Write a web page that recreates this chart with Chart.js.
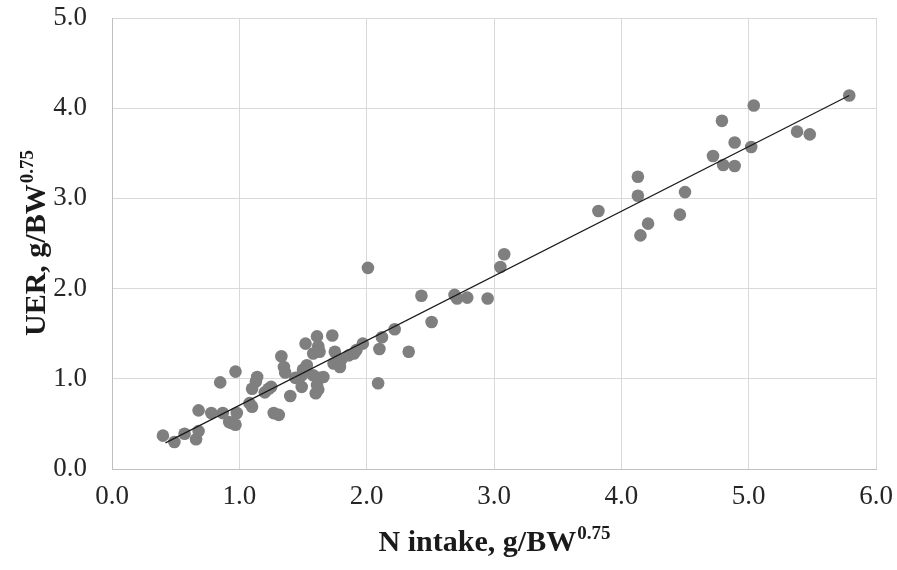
<!DOCTYPE html>
<html>
<head>
<meta charset="utf-8">
<script src="https://cdn.jsdelivr.net/npm/chart.js@4"></script>
<style>
  html, body { margin: 0; padding: 0; background: #ffffff; }
  #wrap { width: 897px; height: 570px; }
</style>
</head>
<body>
<div id="wrap"><canvas id="c" width="897" height="570"></canvas></div>
<script>
// N intake, g/BW^0.75
const nIntake = [
  0.40, 0.49, 0.57, 0.66, 0.68, 0.68, 0.78, 0.85, 0.87, 0.92,
  0.94, 0.97, 0.97, 0.98, 1.08, 1.10, 1.10, 1.13, 1.14, 1.20,
  1.23, 1.25, 1.27, 1.31, 1.33, 1.35, 1.36, 1.40, 1.44, 1.49,
  1.49, 1.50, 1.52, 1.53, 1.58, 1.58, 1.61, 1.61, 1.62, 1.62,
  1.60, 1.63, 1.63, 1.66, 1.73, 1.74, 1.75, 1.79, 1.80, 1.86,
  1.90, 1.92, 1.97, 2.01, 2.09, 2.10, 2.12, 2.22, 2.33, 2.43,
  2.51, 2.69, 2.71, 2.79, 2.95, 3.05, 3.08, 3.82, 4.13, 4.13,
  4.21, 4.15, 4.46, 4.50, 4.72, 4.79, 4.80, 4.89, 4.89, 5.02,
  5.04, 5.38, 5.48, 5.79
];
// UER, g/BW^0.75
const uer = [
  0.37, 0.30, 0.39, 0.33, 0.42, 0.65, 0.62, 0.96, 0.62, 0.52,
  0.51, 0.49, 1.08, 0.62, 0.73, 0.69, 0.89, 0.97, 1.02, 0.85,
  0.89, 0.91, 0.62, 0.60, 1.25, 1.13, 1.07, 0.81, 1.01, 1.04,
  0.91, 1.10, 1.39, 1.15, 1.28, 1.04, 1.47, 0.93, 1.36, 0.88,
  0.84, 1.30, 1.01, 1.02, 1.48, 1.17, 1.30, 1.13, 1.21, 1.26,
  1.28, 1.32, 1.39, 2.23, 0.95, 1.33, 1.46, 1.55, 1.30, 1.92,
  1.63, 1.93, 1.89, 1.90, 1.89, 2.24, 2.38, 2.86, 3.24, 3.03,
  2.72, 2.59, 2.82, 3.07, 3.47, 3.86, 3.37, 3.62, 3.36, 3.57,
  4.03, 3.74, 3.71, 4.14
];
// Linear trend line end points
const trendX = [0.42, 5.79];
const trendY = [0.29, 4.14];

const xTitle = "N intake, g/BW";
const yTitle = "UER, g/BW";
const titleSup = "0.75";

const points = nIntake.map((x, i) => ({ x: x, y: uer[i] }));
const trend = trendX.map((x, i) => ({ x: x, y: trendY[i] }));

const FONT = "'Liberation Serif', 'Times New Roman', serif";

const titlePlugin = {
  id: 'axisTitles',
  afterDraw(chart) {
    const ctx = chart.ctx;
    const a = chart.chartArea;
    ctx.save();
    ctx.fillStyle = '#1a1a1a';
    ctx.textBaseline = 'alphabetic';
    ctx.textAlign = 'left';
    const mainF = "bold 30px " + FONT;
    const supF = "bold 19px " + FONT;
    // X title
    ctx.font = mainF;
    const w1 = ctx.measureText(xTitle).width;
    ctx.font = supF;
    const w2 = ctx.measureText(titleSup).width;
    const cx = (a.left + a.right) / 2;
    const sx = cx - (w1 + w2) / 2;
    const by = 551;
    ctx.font = mainF;
    ctx.fillText(xTitle, sx, by);
    ctx.font = supF;
    ctx.fillText(titleSup, sx + w1 + 1, by - 12);
    // Y title
    ctx.translate(45, (a.top + a.bottom) / 2);
    ctx.rotate(-Math.PI / 2);
    ctx.font = mainF;
    const v1 = ctx.measureText(yTitle).width;
    ctx.font = supF;
    const v2 = ctx.measureText(titleSup).width;
    const vx = -(v1 + v2) / 2;
    ctx.font = mainF;
    ctx.fillText(yTitle, vx, 0);
    ctx.font = supF;
    ctx.fillText(titleSup, vx + v1 + 1, -12);
    ctx.restore();
  }
};

function zeroPad(scale) {
  scale.paddingTop = 0;
  scale.paddingBottom = 0;
  scale.paddingLeft = 0;
  scale.paddingRight = 0;
}

new Chart(document.getElementById('c'), {
  type: 'scatter',
  data: {
    datasets: [
      {
        label: 'UER',
        data: points,
        backgroundColor: '#7f7f7f',
        borderWidth: 0,
        pointRadius: 6.3,
        pointHoverRadius: 6.3,
        order: 2
      },
      {
        label: 'Trend',
        type: 'line',
        data: trend,
        borderColor: '#1a1a1a',
        borderWidth: 1.2,
        pointRadius: 0,
        fill: false,
        order: 1
      }
    ]
  },
  options: {
    responsive: false,
    animation: false,
    events: [],
    layout: { padding: { top: 18, right: 21, left: 0, bottom: 0 } },
    plugins: {
      legend: { display: false },
      tooltip: { enabled: false }
    },
    scales: {
      x: {
        type: 'linear',
        min: 0, max: 6,
        ticks: {
          stepSize: 1,
          padding: 12,
          color: '#262626',
          font: { family: FONT, size: 27 },
          callback: v => Number(v).toFixed(1)
        },
        grid: { color: '#d9d9d9', lineWidth: 1, drawTicks: false },
        border: { color: '#bfbfbf', width: 1 },
        afterFit(scale) { scale.height = 101; zeroPad(scale); }
      },
      y: {
        type: 'linear',
        min: 0, max: 5,
        ticks: {
          stepSize: 1,
          padding: 25,
          color: '#262626',
          font: { family: FONT, size: 27 },
          callback: v => Number(v).toFixed(1)
        },
        grid: { color: '#d9d9d9', lineWidth: 1, drawTicks: false },
        border: { color: '#bfbfbf', width: 1 },
        afterFit(scale) { scale.width = 112; zeroPad(scale); }
      }
    }
  },
  plugins: [titlePlugin]
});
</script>
</body>
</html>
